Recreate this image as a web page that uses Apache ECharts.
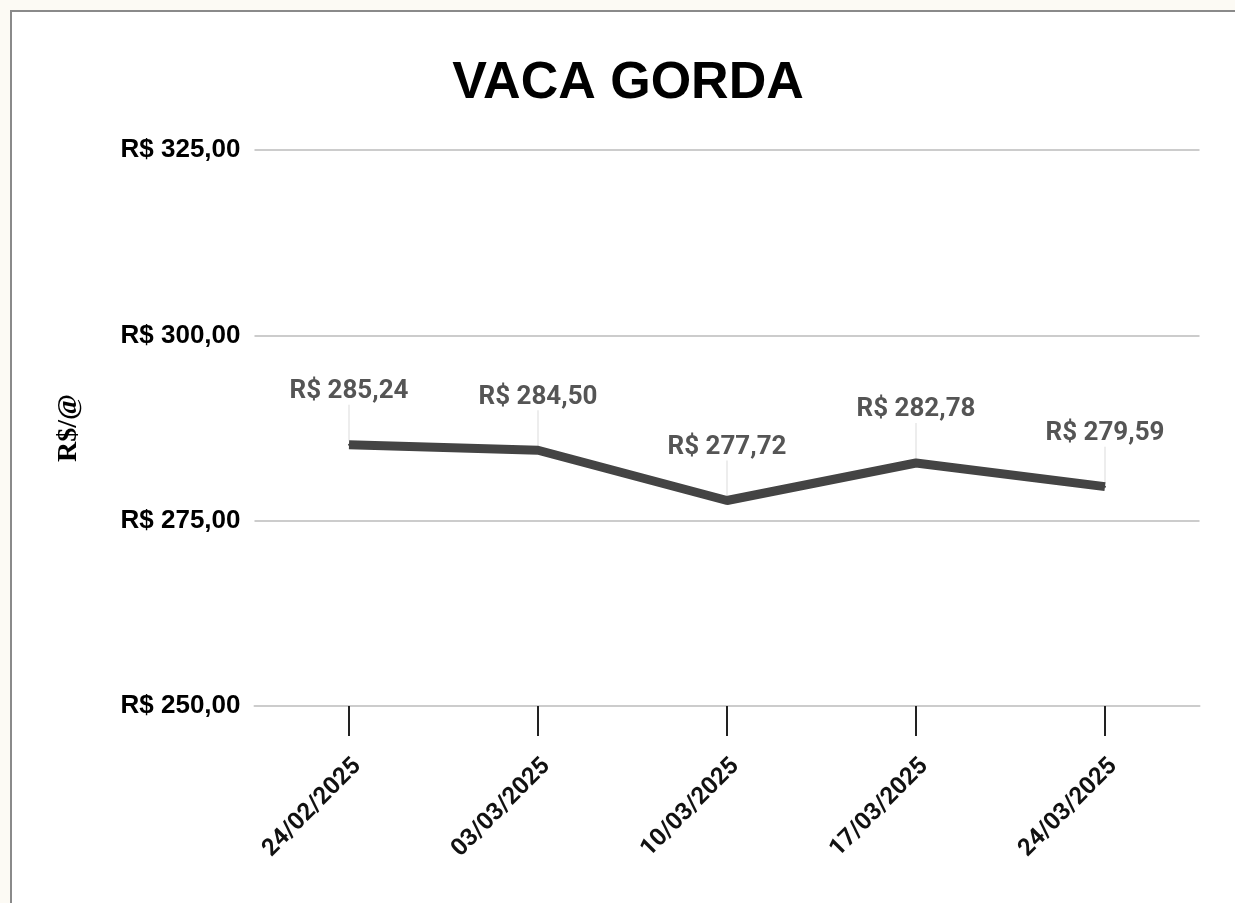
<!DOCTYPE html>
<html>
<head>
<meta charset="utf-8">
<script src="https://cdn.jsdelivr.net/npm/echarts@6/dist/echarts.min.js"></script>
<style>
  html, body { margin: 0; padding: 0; background: #fcfaf4; overflow: hidden; }
  #frame {
    position: absolute; left: 10px; top: 10px; width: 1225px; height: 893px;
    box-sizing: border-box;
    background: #fff; border-left: 2px solid #8a8a8a; border-top: 2px solid #8a8a8a;
  }
  #chart { width: 1223px; height: 891px; }
</style>
</head>
<body>
<div id="frame"><div id="chart"></div></div>
<script>
// dados semanais
const datas = ['24/02/2025', '03/03/2025', '10/03/2025', '17/03/2025', '24/03/2025'];
const precos = [285.24, 284.50, 277.72, 282.78, 279.59];
const yTicks = [250, 275, 300, 325];

const fmt = v => 'R$ ' + v.toFixed(2).replace('.', ',');

const chart = echarts.init(document.getElementById('chart'));

const option = {
  animation: false,
  title: {
    text: 'VACA GORDA',
    left: 611,
    textAlign: 'center',
    top: 41,
    textStyle: { fontFamily: 'Liberation Sans', fontWeight: 'bold', fontSize: 52, color: '#000' }
  },
  grid: { left: 242.5, right: 35.5, top: 138, bottom: 197 },
  xAxis: {
    type: 'category',
    data: datas,
    boundaryGap: true,
    axisLine: { show: true, lineStyle: { color: '#cccccc', width: 2 } },
    axisTick: { show: true, alignWithLabel: true, length: 30, lineStyle: { color: '#222', width: 2 } },
    axisLabel: {
      rotate: 45, margin: 48, verticalAlign: 'top',
      fontFamily: 'Roboto', fontWeight: 'bold', fontSize: 24, color: '#111'
    }
  },
  yAxis: {
    type: 'value',
    min: yTicks[0],
    max: yTicks[yTicks.length - 1],
    interval: 25,
    name: 'R$/@',
    nameLocation: 'middle',
    nameRotate: 90,
    nameGap: 172,
    nameTextStyle: { fontFamily: 'Liberation Serif', fontWeight: 'bold', fontSize: 28, color: '#000' },
    axisLine: { show: false },
    axisTick: { show: false },
    splitLine: { lineStyle: { color: '#cccccc', width: 2 } },
    axisLabel: {
      margin: 14,
      fontFamily: 'Liberation Sans', fontWeight: 'bold', fontSize: 26, color: '#000',
      formatter: v => fmt(v)
    }
  },
  series: [
    {
      // linhas guia dos rótulos
      type: 'scatter',
      data: precos,
      symbol: 'rect',
      symbolSize: [1.5, 36],
      symbolOffset: [0, -22],
      itemStyle: { color: '#e2e2e2' },
      silent: true,
      z: 1
    },
    {
      type: 'line',
      data: precos,
      symbol: 'circle',
      symbolSize: 2,
      showSymbol: true,
      itemStyle: { color: '#444' },
      lineStyle: { color: '#444', width: 9, cap: 'butt' },
      label: {
        show: true,
        position: 'top',
        distance: 39,
        fontFamily: 'Roboto', fontWeight: 'bold', fontSize: 26, color: '#555',
        formatter: p => fmt(p.value)
      },
      z: 2
    }
  ]
};

chart.setOption(option);
</script>
</body>
</html>
